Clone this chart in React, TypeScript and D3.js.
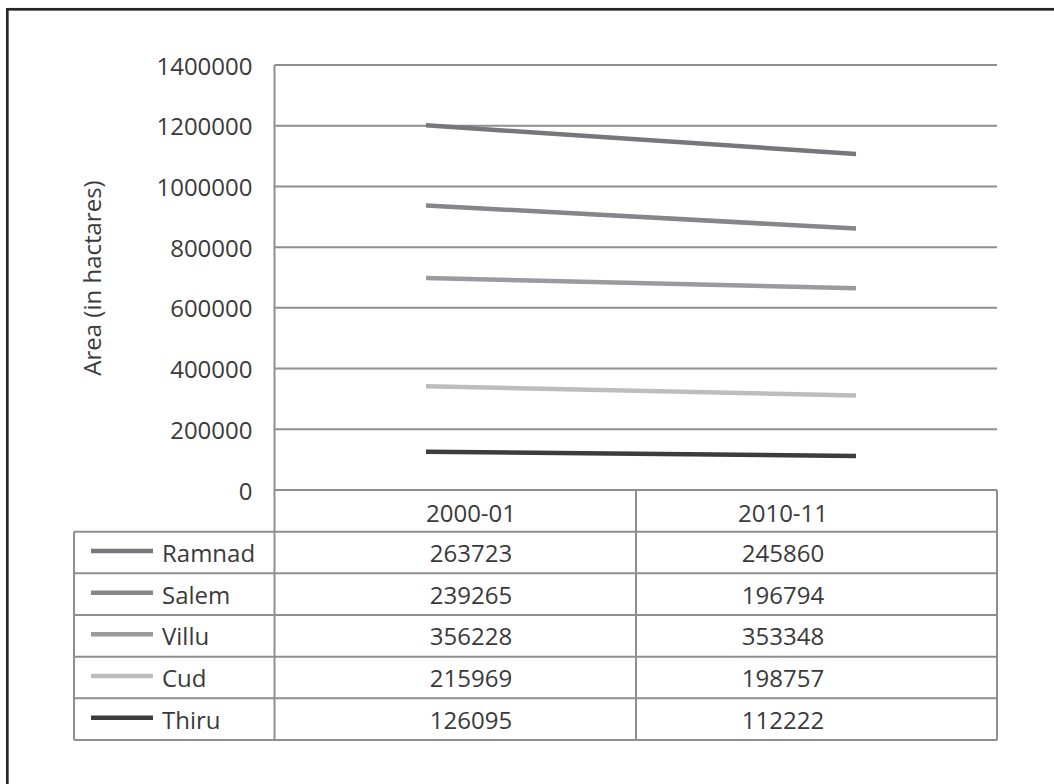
import React from "react";
import * as d3 from "d3";

const categories = ["2000-01", "2010-11"];
const seriesNames = ["Ramnad", "Salem", "Villu", "Cud", "Thiru"];
const ramnad = [263723, 245860];
const salem = [239265, 196794];
const villu = [356228, 353348];
const cud = [215969, 198757];
const thiru = [126095, 112222];
const yTicks = [0, 200000, 400000, 600000, 800000, 1000000, 1200000, 1400000];
const seriesColors = ["#76767b", "#85858a", "#9b9b9f", "#bdbdc0", "#3c3c3e"];

const valuesByName: Record<string, number[]> = {
  Ramnad: ramnad,
  Salem: salem,
  Villu: villu,
  Cud: cud,
  Thiru: thiru,
};

const W = 1054;
const H = 784;
const FONT = "'Open Sans', 'Noto Sans', sans-serif";
const TEXT = "#3a3a3a";
const GRID = "#8f8f93";

export default function App() {
  const plotLeft = 274.5;
  const plotRight = 997;
  const yTop = 65;
  const yBottom = 490;
  const y = d3.scaleLinear().domain([0, 1400000]).range([yBottom, yTop]);

  // line points
  const xLine = d3.scalePoint<string>().domain(categories).range([426, 856]);
  // table text centers
  const xText = d3.scalePoint<string>().domain(categories).range([471, 783]);

  const rows = categories.map((c, i) => {
    const o: Record<string, number | string> = { cat: c };
    seriesNames.forEach((n) => (o[n] = valuesByName[n][i]));
    return o;
  });
  const stackOrder = [...seriesNames].reverse(); // Thiru bottom ... Ramnad top
  const stacked = d3.stack<any>().keys(stackOrder)(rows as any);

  const line = d3
    .line<any>()
    .x((d) => xLine(d.data.cat as string)!)
    .y((d) => y(d[1]));

  const tableLeft = 74;
  const colDiv = 636;
  const headerTop = yBottom;
  const rowH = 41.67;
  const tableTop = headerTop + rowH;
  const tableBottom = tableTop + rowH * seriesNames.length;

  return (
    <svg
      width={W}
      height={H}
      style={{ position: "absolute", left: 0, top: 0, background: "#fff" }}
      fontFamily={FONT}
    >
      <rect x={0} y={0} width={W} height={H} fill="#fff" />
      {/* outer frame */}
      <rect x={7.3} y={9.3} width={W + 20} height={H + 20} fill="none" stroke="#262626" strokeWidth={2.7} />

      {/* gridlines */}
      {yTicks.map((t) => (
        <line key={t} x1={plotLeft} x2={plotRight} y1={y(t)} y2={y(t)} stroke={GRID} strokeWidth={2} />
      ))}
      {/* tick labels */}
      {yTicks.map((t) => (
        <text
          key={"l" + t}
          x={252.5}
          y={y(t)}
          textAnchor="end"
          dominantBaseline="central"
          fontSize={24}
          fill={TEXT}
        >
          {t}
        </text>
      ))}
      {/* axis title */}
      <text
        transform={`translate(${101},${278}) rotate(-90)`}
        textAnchor="middle"
        fontSize={24}
        fill={TEXT}
      >
        Area (in hactares)
      </text>

      {/* table */}
      <g stroke={GRID} strokeWidth={2} fill="none">
        <line x1={plotLeft} x2={plotLeft} y1={yTop} y2={tableBottom} />
        <line x1={colDiv} x2={colDiv} y1={headerTop} y2={tableBottom} />
        <line x1={plotRight} x2={plotRight} y1={headerTop} y2={tableBottom} />
        <line x1={tableLeft} x2={tableLeft} y1={tableTop} y2={tableBottom} />
        {d3.range(seriesNames.length + 1).map((i) => (
          <line
            key={i}
            x1={tableLeft}
            x2={plotRight}
            y1={tableTop + i * rowH}
            y2={tableTop + i * rowH}
          />
        ))}
      </g>
      {categories.map((c) => (
        <text
          key={c}
          x={xText(c)}
          y={headerTop + rowH / 2 + 2}
          textAnchor="middle"
          dominantBaseline="central"
          fontSize={24}
          fill={TEXT}
        >
          {c}
        </text>
      ))}
      {seriesNames.map((n, i) => {
        const cy = tableTop + i * rowH + rowH / 2;
        return (
          <g key={n}>
            <line x1={91} x2={153} y1={cy - 1.5} y2={cy - 1.5} stroke={seriesColors[i]} strokeWidth={4.5} />
            <text x={162} y={cy} dominantBaseline="central" fontSize={24} fill={TEXT}>
              {n}
            </text>
            {categories.map((c, j) => (
              <text
                key={c}
                x={xText(c)}
                y={cy}
                textAnchor="middle"
                dominantBaseline="central"
                fontSize={24}
                fill={TEXT}
              >
                {valuesByName[n][j]}
              </text>
            ))}
          </g>
        );
      })}

      {/* stacked lines */}
      {stacked.map((layer) => {
        const idx = seriesNames.indexOf(layer.key);
        return (
          <path
            key={layer.key}
            d={line(layer as any) || ""}
            fill="none"
            stroke={seriesColors[idx]}
            strokeWidth={4.5}
          />
        );
      })}
    </svg>
  );
}
